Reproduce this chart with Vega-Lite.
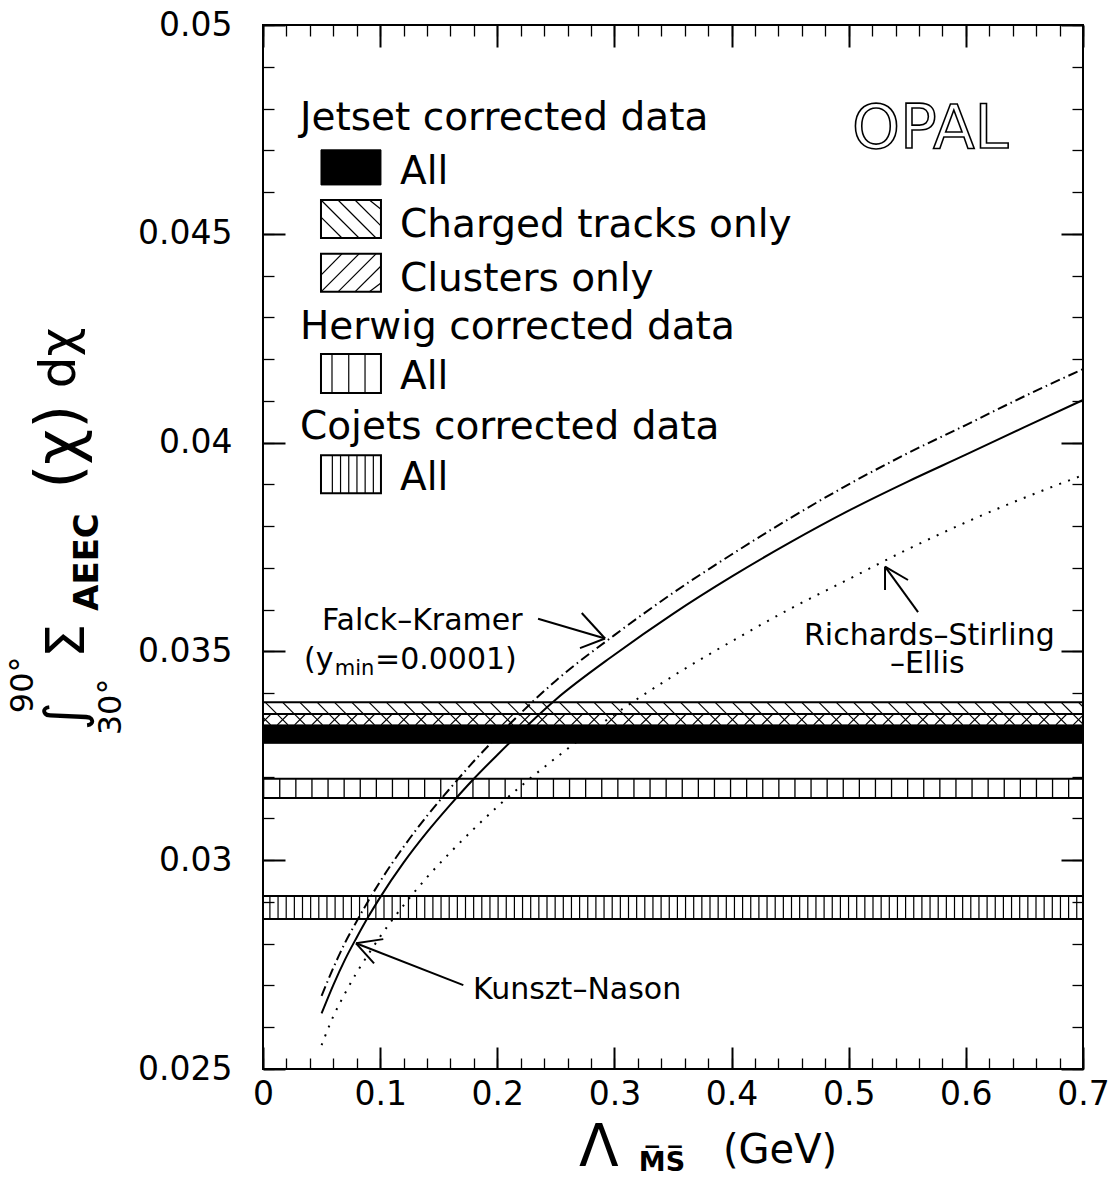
{
  "$schema": "https://vega.github.io/schema/vega-lite/v6.json",
  "width": 820,
  "height": 1044,
  "autosize": {"type": "none"},
  "padding": {"left": 263, "top": 25, "right": 29, "bottom": 121},
  "background": "white",
  "config": {
    "view": {"stroke": "black", "strokeWidth": 2},
    "axis": {"grid": false, "domain": false},
    "text": {"font": "DejaVu Sans", "color": "black"}
  },
  "resolve": {"axis": {"x": "independent", "y": "independent"}},
  "datasets": {
    "bands": [
      {"band": "charged", "lo": 0.0330, "hi": 0.03378},
      {"band": "clusters", "lo": 0.0330, "hi": 0.0335},
      {"band": "herwig", "lo": 0.03149, "hi": 0.03195},
      {"band": "cojets", "lo": 0.02859, "hi": 0.02914},
      {"band": "jetsetAll", "lo": 0.03280, "hi": 0.03324}
    ],
    "hatch": [
      {"h": -0.0128}, {"h": 0.0020}, {"h": 0.0168}, {"h": 0.0315}, {"h": 0.0463}, {"h": 0.0611}, {"h": 0.0759}, {"h": 0.0906},
      {"h": 0.1054}, {"h": 0.1202}, {"h": 0.1349}, {"h": 0.1497}, {"h": 0.1645}, {"h": 0.1792}, {"h": 0.1940}, {"h": 0.2088},
      {"h": 0.2236}, {"h": 0.2383}, {"h": 0.2531}, {"h": 0.2679}, {"h": 0.2826}, {"h": 0.2974}, {"h": 0.3122}, {"h": 0.3269},
      {"h": 0.3417}, {"h": 0.3565}, {"h": 0.3713}, {"h": 0.3860}, {"h": 0.4008}, {"h": 0.4156}, {"h": 0.4303}, {"h": 0.4451},
      {"h": 0.4599}, {"h": 0.4746}, {"h": 0.4894}, {"h": 0.5042}, {"h": 0.5190}, {"h": 0.5337}, {"h": 0.5485}, {"h": 0.5633},
      {"h": 0.5780}, {"h": 0.5928}, {"h": 0.6076}, {"h": 0.6223}, {"h": 0.6371}, {"h": 0.6519}, {"h": 0.6667}, {"h": 0.6814},
      {"h": 0.6962}
    ],
    "curves": [
      {"model": "Kunszt-Nason", "x": 0.05, "y": 0.02633},
      {"model": "Kunszt-Nason", "x": 0.06, "y": 0.02701},
      {"model": "Kunszt-Nason", "x": 0.07, "y": 0.02762},
      {"model": "Kunszt-Nason", "x": 0.08, "y": 0.02815},
      {"model": "Kunszt-Nason", "x": 0.09, "y": 0.02865},
      {"model": "Kunszt-Nason", "x": 0.10, "y": 0.02911},
      {"model": "Kunszt-Nason", "x": 0.12, "y": 0.02994},
      {"model": "Kunszt-Nason", "x": 0.14, "y": 0.03067},
      {"model": "Kunszt-Nason", "x": 0.16, "y": 0.03133},
      {"model": "Kunszt-Nason", "x": 0.18, "y": 0.03195},
      {"model": "Kunszt-Nason", "x": 0.20, "y": 0.03252},
      {"model": "Kunszt-Nason", "x": 0.25, "y": 0.03385},
      {"model": "Kunszt-Nason", "x": 0.30, "y": 0.03492},
      {"model": "Kunszt-Nason", "x": 0.35, "y": 0.03590},
      {"model": "Kunszt-Nason", "x": 0.40, "y": 0.03679},
      {"model": "Kunszt-Nason", "x": 0.45, "y": 0.03761},
      {"model": "Kunszt-Nason", "x": 0.50, "y": 0.03837},
      {"model": "Kunszt-Nason", "x": 0.55, "y": 0.03906},
      {"model": "Kunszt-Nason", "x": 0.60, "y": 0.03971},
      {"model": "Kunszt-Nason", "x": 0.65, "y": 0.04037},
      {"model": "Kunszt-Nason", "x": 0.70, "y": 0.04102},
      {"model": "Falck-Kramer", "x": 0.05, "y": 0.02675},
      {"model": "Falck-Kramer", "x": 0.06, "y": 0.02742},
      {"model": "Falck-Kramer", "x": 0.07, "y": 0.02802},
      {"model": "Falck-Kramer", "x": 0.08, "y": 0.02854},
      {"model": "Falck-Kramer", "x": 0.09, "y": 0.02903},
      {"model": "Falck-Kramer", "x": 0.10, "y": 0.02949},
      {"model": "Falck-Kramer", "x": 0.12, "y": 0.03032},
      {"model": "Falck-Kramer", "x": 0.14, "y": 0.03106},
      {"model": "Falck-Kramer", "x": 0.16, "y": 0.03173},
      {"model": "Falck-Kramer", "x": 0.18, "y": 0.03237},
      {"model": "Falck-Kramer", "x": 0.20, "y": 0.03296},
      {"model": "Falck-Kramer", "x": 0.25, "y": 0.03430},
      {"model": "Falck-Kramer", "x": 0.30, "y": 0.03539},
      {"model": "Falck-Kramer", "x": 0.35, "y": 0.03640},
      {"model": "Falck-Kramer", "x": 0.40, "y": 0.03732},
      {"model": "Falck-Kramer", "x": 0.45, "y": 0.03819},
      {"model": "Falck-Kramer", "x": 0.50, "y": 0.03900},
      {"model": "Falck-Kramer", "x": 0.55, "y": 0.03974},
      {"model": "Falck-Kramer", "x": 0.60, "y": 0.04042},
      {"model": "Falck-Kramer", "x": 0.65, "y": 0.04111},
      {"model": "Falck-Kramer", "x": 0.70, "y": 0.04176},
      {"model": "Richards-Stirling-Ellis", "x": 0.05, "y": 0.02557},
      {"model": "Richards-Stirling-Ellis", "x": 0.06, "y": 0.02626},
      {"model": "Richards-Stirling-Ellis", "x": 0.07, "y": 0.02681},
      {"model": "Richards-Stirling-Ellis", "x": 0.08, "y": 0.02731},
      {"model": "Richards-Stirling-Ellis", "x": 0.09, "y": 0.02775},
      {"model": "Richards-Stirling-Ellis", "x": 0.10, "y": 0.02817},
      {"model": "Richards-Stirling-Ellis", "x": 0.12, "y": 0.02892},
      {"model": "Richards-Stirling-Ellis", "x": 0.14, "y": 0.02959},
      {"model": "Richards-Stirling-Ellis", "x": 0.16, "y": 0.03019},
      {"model": "Richards-Stirling-Ellis", "x": 0.18, "y": 0.03075},
      {"model": "Richards-Stirling-Ellis", "x": 0.20, "y": 0.03128},
      {"model": "Richards-Stirling-Ellis", "x": 0.25, "y": 0.03245},
      {"model": "Richards-Stirling-Ellis", "x": 0.30, "y": 0.03349},
      {"model": "Richards-Stirling-Ellis", "x": 0.35, "y": 0.03441},
      {"model": "Richards-Stirling-Ellis", "x": 0.40, "y": 0.03524},
      {"model": "Richards-Stirling-Ellis", "x": 0.45, "y": 0.03602},
      {"model": "Richards-Stirling-Ellis", "x": 0.50, "y": 0.03673},
      {"model": "Richards-Stirling-Ellis", "x": 0.55, "y": 0.03744},
      {"model": "Richards-Stirling-Ellis", "x": 0.60, "y": 0.03809},
      {"model": "Richards-Stirling-Ellis", "x": 0.65, "y": 0.03868},
      {"model": "Richards-Stirling-Ellis", "x": 0.70, "y": 0.03922}
    ],
    "arrows": [
      {"x": 0.2348, "y": 0.03578, "x2": 0.2920, "y2": 0.03531},
      {"x": 0.2920, "y": 0.03531, "x2": 0.2721, "y2": 0.03592},
      {"x": 0.2920, "y": 0.03531, "x2": 0.2706, "y2": 0.03508},
      {"x": 0.1710, "y": 0.02701, "x2": 0.0794, "y2": 0.02801},
      {"x": 0.0794, "y": 0.02801, "x2": 0.1027, "y2": 0.02811},
      {"x": 0.0794, "y": 0.02801, "x2": 0.0948, "y2": 0.02753},
      {"x": 0.5592, "y": 0.03594, "x2": 0.5310, "y2": 0.03703},
      {"x": 0.5310, "y": 0.03703, "x2": 0.5310, "y2": 0.03647},
      {"x": 0.5310, "y": 0.03703, "x2": 0.5506, "y2": 0.03671}
    ],
    "swatches": [
      {"kind": "jetsetAll", "x": 0.0495, "x2": 0.1007, "y": 0.04617, "y2": 0.04701},
      {"kind": "charged", "x": 0.0495, "x2": 0.1007, "y": 0.04490, "y2": 0.04581},
      {"kind": "clusters", "x": 0.0495, "x2": 0.1007, "y": 0.04361, "y2": 0.04452},
      {"kind": "herwig", "x": 0.0495, "x2": 0.1007, "y": 0.04119, "y2": 0.04212},
      {"kind": "cojets", "x": 0.0495, "x2": 0.1007, "y": 0.03879, "y2": 0.03970}
    ],
    "swatchHatch": [
      {"x": 0.0495, "y": 0.04540, "x2": 0.0674, "y2": 0.04490},
      {"x": 0.0495, "y": 0.04581, "x2": 0.0820, "y2": 0.04490},
      {"x": 0.0640, "y": 0.04581, "x2": 0.0965, "y2": 0.04490},
      {"x": 0.0785, "y": 0.04581, "x2": 0.1007, "y2": 0.04519},
      {"x": 0.0908, "y": 0.04581, "x2": 0.1007, "y2": 0.04559},
      {"x": 0.0495, "y": 0.04401, "x2": 0.0674, "y2": 0.04452},
      {"x": 0.0495, "y": 0.04361, "x2": 0.0820, "y2": 0.04452},
      {"x": 0.0640, "y": 0.04361, "x2": 0.0965, "y2": 0.04452},
      {"x": 0.0785, "y": 0.04361, "x2": 0.1007, "y2": 0.04423},
      {"x": 0.0908, "y": 0.04361, "x2": 0.1007, "y2": 0.04382},
      {"x": 0.0589, "y": 0.04119, "x2": 0.0589, "y2": 0.04212},
      {"x": 0.0732, "y": 0.04119, "x2": 0.0732, "y2": 0.04212},
      {"x": 0.0871, "y": 0.04119, "x2": 0.0871, "y2": 0.04212},
      {"x": 0.0592, "y": 0.03879, "x2": 0.0592, "y2": 0.03970},
      {"x": 0.0662, "y": 0.03879, "x2": 0.0662, "y2": 0.03970},
      {"x": 0.0732, "y": 0.03879, "x2": 0.0732, "y2": 0.03970},
      {"x": 0.0802, "y": 0.03879, "x2": 0.0802, "y2": 0.03970},
      {"x": 0.0872, "y": 0.03879, "x2": 0.0872, "y2": 0.03970},
      {"x": 0.0942, "y": 0.03879, "x2": 0.0942, "y2": 0.03970}
    ],
    "legendText": [
      {"t": "Jetset corrected data", "x": 0.0316, "y": 0.04777},
      {"t": "All", "x": 0.1170, "y": 0.04648},
      {"t": "Charged tracks only", "x": 0.1170, "y": 0.04521},
      {"t": "Clusters only", "x": 0.1170, "y": 0.04392},
      {"t": "Herwig corrected data", "x": 0.0316, "y": 0.04277},
      {"t": "All", "x": 0.1170, "y": 0.04157},
      {"t": "Cojets corrected data", "x": 0.0316, "y": 0.04037},
      {"t": "All", "x": 0.1170, "y": 0.03915}
    ],
    "notes": [
      {"t": "Falck–Kramer", "x": 0.0504, "y": 0.03573},
      {"t": "(y", "x": 0.0350, "y": 0.03479},
      {"t": "=0.0001)", "x": 0.0956, "y": 0.03479},
      {"t": "Kunszt–Nason", "x": 0.1793, "y": 0.02689},
      {"t": "Richards–Stirling", "x": 0.4618, "y": 0.03538},
      {"t": "–Ellis", "x": 0.5353, "y": 0.03471}
    ],
    "subs": [
      {"t": "min", "x": 0.0613, "y": 0.03458}
    ],
    "opal": [
      {"t": "OPAL", "x": 0.5028, "y": 0.04749}
    ],
    "xLambda": [
      {"t": "Λ", "x": 0.2868, "y": 0.02308}
    ],
    "xUnit": [
      {"t": "(GeV)", "x": 0.4414, "y": 0.02304}
    ],
    "xtitleSub": [
      {"t": "M̅S̅", "x": 0.3406, "y": 0.02275}
    ],
    "yIntSigma": [
      {"t": "∫", "x": -0.1673, "y": 0.03345},
      {"t": "Σ", "x": -0.1665, "y": 0.03525}
    ],
    "yChi": [
      {"t": "(χ)", "x": -0.1733, "y": 0.03990}
    ],
    "yDChi": [
      {"t": "dχ", "x": -0.1733, "y": 0.04203}
    ],
    "ytitleLimits": [
      {"t": "90°", "x": -0.2049, "y": 0.03420},
      {"t": "30°", "x": -0.1298, "y": 0.03367}
    ],
    "ytitleSub": [
      {"t": "AEEC", "x": -0.1494, "y": 0.03714}
    ]
  },
  "layer": [
    {
      "data": {"name": "bands"},
      "transform": [{"filter": "datum.band != 'jetsetAll'"}],
      "mark": {"type": "rect", "fill": "white", "stroke": "black", "strokeWidth": 2},
      "encoding": {
        "x": {"datum": 0, "type": "quantitative", "scale": {"domain": [0, 0.7], "nice": false, "zero": false}, "axis": null},
        "x2": {"datum": 0.7},
        "y": {"field": "lo", "type": "quantitative", "scale": {"domain": [0.025, 0.05], "nice": false, "zero": false}, "axis": null},
        "y2": {"field": "hi"}
      }
    },
    {
      "data": {"name": "hatch"},
      "mark": {"type": "rule", "clip": true, "color": "black", "strokeWidth": 1.2, "x2Offset": 22.6},
      "encoding": {
        "x": {"field": "h", "type": "quantitative", "scale": {"domain": [0, 0.7], "nice": false, "zero": false}, "axis": null},
        "x2": {"field": "h"},
        "y": {"datum": 0.03378, "type": "quantitative", "scale": {"domain": [0.025, 0.05], "nice": false, "zero": false}, "axis": null},
        "y2": {"datum": 0.03324}
      }
    },
    {
      "data": {"name": "hatch"},
      "mark": {"type": "rule", "clip": true, "color": "black", "strokeWidth": 1.2, "xOffset": -5.3, "x2Offset": 5.7},
      "encoding": {
        "x": {"field": "h", "type": "quantitative", "scale": {"domain": [0, 0.7], "nice": false, "zero": false}, "axis": null},
        "x2": {"field": "h"},
        "y": {"datum": 0.03324, "type": "quantitative", "scale": {"domain": [0.025, 0.05], "nice": false, "zero": false}, "axis": null},
        "y2": {"datum": 0.0335}
      }
    },
    {
      "data": {"name": "bands"},
      "transform": [{"filter": "datum.band == 'herwig'"}],
      "mark": {"type": "rule", "color": "black", "strokeWidth": 19, "strokeCap": "butt", "strokeDash": [1.3, 14.8]},
      "encoding": {
        "x": {"datum": 0, "type": "quantitative", "scale": {"domain": [0, 0.7], "nice": false, "zero": false}, "axis": null},
        "x2": {"datum": 0.7},
        "y": {"datum": 0.03172, "type": "quantitative", "scale": {"domain": [0.025, 0.05], "nice": false, "zero": false}, "axis": null}
      }
    },
    {
      "data": {"name": "bands"},
      "transform": [{"filter": "datum.band == 'cojets'"}],
      "mark": {"type": "rule", "color": "black", "strokeWidth": 23, "strokeCap": "butt", "strokeDash": [1.2, 6.95], "strokeDashOffset": 1.85},
      "encoding": {
        "x": {"datum": 0, "type": "quantitative", "scale": {"domain": [0, 0.7], "nice": false, "zero": false}, "axis": null},
        "x2": {"datum": 0.7},
        "y": {"datum": 0.028865, "type": "quantitative", "scale": {"domain": [0.025, 0.05], "nice": false, "zero": false}, "axis": null}
      }
    },
    {
      "data": {"name": "bands"},
      "transform": [{"filter": "datum.band == 'jetsetAll'"}],
      "mark": {"type": "rect", "fill": "black", "stroke": "black", "strokeWidth": 1},
      "encoding": {
        "x": {"datum": 0, "type": "quantitative", "scale": {"domain": [0, 0.7], "nice": false, "zero": false}, "axis": null},
        "x2": {"datum": 0.7},
        "y": {"field": "lo", "type": "quantitative", "scale": {"domain": [0.025, 0.05], "nice": false, "zero": false}, "axis": null},
        "y2": {"field": "hi"}
      }
    },
    {
      "data": {"name": "curves"},
      "transform": [{"filter": "datum.model == 'Kunszt-Nason'"}],
      "mark": {"type": "line", "color": "black", "strokeWidth": 2, "interpolate": "monotone"},
      "encoding": {
        "x": {"field": "x", "type": "quantitative", "scale": {"domain": [0, 0.7], "nice": false, "zero": false},
          "axis": {"orient": "bottom", "values": [0, 0.1, 0.2, 0.3, 0.4, 0.5, 0.6, 0.7], "ticks": false, "domain": false, "grid": false, "labels": true, "labelFont": "DejaVu Sans", "labelFontSize": 33, "labelColor": "black", "labelPadding": 9, "labelFlush": false, "labelOverlap": false, "labelExpr": "format(datum.value, '~g')", "title": null}},
        "y": {"field": "y", "type": "quantitative", "scale": {"domain": [0.025, 0.05], "nice": false, "zero": false},
          "axis": {"orient": "left", "values": [0.025, 0.03, 0.035, 0.04, 0.045, 0.05], "ticks": false, "domain": false, "grid": false, "labels": true, "labelFont": "DejaVu Sans", "labelFontSize": 33, "labelColor": "black", "labelPadding": 31, "labelFlush": false, "labelOverlap": false, "labelExpr": "format(datum.value, '~g')", "title": null}}
      }
    },
    {
      "data": {"name": "curves"},
      "transform": [{"filter": "datum.model == 'Falck-Kramer'"}],
      "mark": {"type": "line", "color": "black", "strokeWidth": 2, "interpolate": "monotone", "strokeDash": [10, 4, 1.5, 4]},
      "encoding": {
        "x": {"field": "x", "type": "quantitative", "scale": {"domain": [0, 0.7], "nice": false, "zero": false},
          "axis": {"orient": "bottom", "values": [0, 0.1, 0.2, 0.3, 0.4, 0.5, 0.6, 0.7], "ticks": true, "tickSize": -22, "tickWidth": 2, "tickColor": "black", "labels": false, "domain": false, "grid": false, "title": null, "zindex": 1}},
        "y": {"field": "y", "type": "quantitative", "scale": {"domain": [0.025, 0.05], "nice": false, "zero": false},
          "axis": {"orient": "left", "values": [0.025, 0.03, 0.035, 0.04, 0.045, 0.05], "ticks": true, "tickSize": -22, "tickWidth": 2, "tickColor": "black", "labels": false, "domain": false, "grid": false, "title": null, "zindex": 1}}
      }
    },
    {
      "data": {"name": "curves"},
      "transform": [{"filter": "datum.model == 'Richards-Stirling-Ellis'"}],
      "mark": {"type": "line", "color": "black", "strokeWidth": 2, "interpolate": "monotone", "strokeDash": [2, 7.5]},
      "encoding": {
        "x": {"field": "x", "type": "quantitative", "scale": {"domain": [0, 0.7], "nice": false, "zero": false},
          "axis": {"orient": "bottom", "values": [0, 0.02, 0.04, 0.06, 0.08, 0.1, 0.12, 0.14, 0.16, 0.18, 0.2, 0.22, 0.24, 0.26, 0.28, 0.3, 0.32, 0.34, 0.36, 0.38, 0.4, 0.42, 0.44, 0.46, 0.48, 0.5, 0.52, 0.54, 0.56, 0.58, 0.6, 0.62, 0.64, 0.66, 0.68, 0.7], "ticks": true, "tickSize": -11, "tickWidth": 1.3, "tickColor": "black", "labels": false, "domain": false, "grid": false, "title": null, "zindex": 1}},
        "y": {"field": "y", "type": "quantitative", "scale": {"domain": [0.025, 0.05], "nice": false, "zero": false},
          "axis": {"orient": "left", "values": [0.025, 0.026, 0.027, 0.028, 0.029, 0.03, 0.031, 0.032, 0.033, 0.034, 0.035, 0.036, 0.037, 0.038, 0.039, 0.04, 0.041, 0.042, 0.043, 0.044, 0.045, 0.046, 0.047, 0.048, 0.049, 0.05], "ticks": true, "tickSize": -11, "tickWidth": 1.3, "tickColor": "black", "labels": false, "domain": false, "grid": false, "title": null, "zindex": 1}}
      }
    },
    {
      "data": {"name": "arrows"},
      "mark": {"type": "rule", "color": "black", "strokeWidth": 2},
      "encoding": {
        "x": {"field": "x", "type": "quantitative", "scale": {"domain": [0, 0.7], "nice": false, "zero": false},
          "axis": {"orient": "top", "values": [0, 0.1, 0.2, 0.3, 0.4, 0.5, 0.6, 0.7], "ticks": true, "tickSize": -22, "tickWidth": 2, "tickColor": "black", "labels": false, "domain": false, "grid": false, "title": null, "zindex": 1}},
        "x2": {"field": "x2"},
        "y": {"field": "y", "type": "quantitative", "scale": {"domain": [0.025, 0.05], "nice": false, "zero": false},
          "axis": {"orient": "right", "values": [0.025, 0.03, 0.035, 0.04, 0.045, 0.05], "ticks": true, "tickSize": -22, "tickWidth": 2, "tickColor": "black", "labels": false, "domain": false, "grid": false, "title": null, "zindex": 1}},
        "y2": {"field": "y2"}
      }
    },
    {
      "data": {"name": "swatches"},
      "transform": [{"filter": "datum.kind != 'jetsetAll'"}],
      "mark": {"type": "rect", "fill": "white", "stroke": "black", "strokeWidth": 2},
      "encoding": {
        "x": {"field": "x", "type": "quantitative", "scale": {"domain": [0, 0.7], "nice": false, "zero": false}, "axis": null},
        "x2": {"field": "x2"},
        "y": {"field": "y", "type": "quantitative", "scale": {"domain": [0.025, 0.05], "nice": false, "zero": false}, "axis": null},
        "y2": {"field": "y2"}
      }
    },
    {
      "data": {"name": "swatches"},
      "transform": [{"filter": "datum.kind == 'jetsetAll'"}],
      "mark": {"type": "rect", "fill": "black", "stroke": "black", "strokeWidth": 1},
      "encoding": {
        "x": {"field": "x", "type": "quantitative", "scale": {"domain": [0, 0.7], "nice": false, "zero": false}, "axis": null},
        "x2": {"field": "x2"},
        "y": {"field": "y", "type": "quantitative", "scale": {"domain": [0.025, 0.05], "nice": false, "zero": false}, "axis": null},
        "y2": {"field": "y2"}
      }
    },
    {
      "data": {"name": "swatchHatch"},
      "mark": {"type": "rule", "color": "black", "strokeWidth": 1.2},
      "encoding": {
        "x": {"field": "x", "type": "quantitative", "scale": {"domain": [0, 0.7], "nice": false, "zero": false},
          "axis": {"orient": "top", "values": [0, 0.02, 0.04, 0.06, 0.08, 0.1, 0.12, 0.14, 0.16, 0.18, 0.2, 0.22, 0.24, 0.26, 0.28, 0.3, 0.32, 0.34, 0.36, 0.38, 0.4, 0.42, 0.44, 0.46, 0.48, 0.5, 0.52, 0.54, 0.56, 0.58, 0.6, 0.62, 0.64, 0.66, 0.68, 0.7], "ticks": true, "tickSize": -11, "tickWidth": 1.3, "tickColor": "black", "labels": false, "domain": false, "grid": false, "title": null, "zindex": 1}},
        "x2": {"field": "x2"},
        "y": {"field": "y", "type": "quantitative", "scale": {"domain": [0.025, 0.05], "nice": false, "zero": false},
          "axis": {"orient": "right", "values": [0.025, 0.026, 0.027, 0.028, 0.029, 0.03, 0.031, 0.032, 0.033, 0.034, 0.035, 0.036, 0.037, 0.038, 0.039, 0.04, 0.041, 0.042, 0.043, 0.044, 0.045, 0.046, 0.047, 0.048, 0.049, 0.05], "ticks": true, "tickSize": -11, "tickWidth": 1.3, "tickColor": "black", "labels": false, "domain": false, "grid": false, "title": null, "zindex": 1}},
        "y2": {"field": "y2"}
      }
    },
    {
      "data": {"name": "legendText"},
      "mark": {"type": "text", "align": "left", "baseline": "middle", "fontSize": 39, "font": "DejaVu Sans"},
      "encoding": {
        "x": {"field": "x", "type": "quantitative", "scale": {"domain": [0, 0.7], "nice": false, "zero": false}, "axis": null},
        "y": {"field": "y", "type": "quantitative", "scale": {"domain": [0.025, 0.05], "nice": false, "zero": false}, "axis": null},
        "text": {"field": "t"}
      }
    },
    {
      "data": {"name": "notes"},
      "mark": {"type": "text", "align": "left", "baseline": "middle", "fontSize": 30, "font": "DejaVu Sans"},
      "encoding": {
        "x": {"field": "x", "type": "quantitative", "scale": {"domain": [0, 0.7], "nice": false, "zero": false}, "axis": null},
        "y": {"field": "y", "type": "quantitative", "scale": {"domain": [0.025, 0.05], "nice": false, "zero": false}, "axis": null},
        "text": {"field": "t"}
      }
    },
    {
      "data": {"name": "subs"},
      "mark": {"type": "text", "align": "left", "baseline": "middle", "fontSize": 21, "font": "DejaVu Sans"},
      "encoding": {
        "x": {"field": "x", "type": "quantitative", "scale": {"domain": [0, 0.7], "nice": false, "zero": false}, "axis": null},
        "y": {"field": "y", "type": "quantitative", "scale": {"domain": [0.025, 0.05], "nice": false, "zero": false}, "axis": null},
        "text": {"field": "t"}
      }
    },
    {
      "data": {"name": "opal"},
      "mark": {"type": "text", "align": "left", "baseline": "middle", "fontSize": 61, "font": "DejaVu Sans", "fill": "white", "stroke": "black", "strokeWidth": 1.6},
      "encoding": {
        "x": {"field": "x", "type": "quantitative", "scale": {"domain": [0, 0.7], "nice": false, "zero": false}, "axis": null},
        "y": {"field": "y", "type": "quantitative", "scale": {"domain": [0.025, 0.05], "nice": false, "zero": false}, "axis": null},
        "text": {"field": "t"}
      }
    },
    {
      "data": {"name": "xLambda"},
      "mark": {"type": "text", "align": "center", "baseline": "middle", "fontSize": 58, "font": "DejaVu Sans"},
      "encoding": {
        "x": {"field": "x", "type": "quantitative", "scale": {"domain": [0, 0.7], "nice": false, "zero": false}, "axis": null},
        "y": {"field": "y", "type": "quantitative", "scale": {"domain": [0.025, 0.05], "nice": false, "zero": false}, "axis": null},
        "text": {"field": "t"}
      }
    },
    {
      "data": {"name": "xUnit"},
      "mark": {"type": "text", "align": "center", "baseline": "middle", "fontSize": 40, "font": "DejaVu Sans"},
      "encoding": {
        "x": {"field": "x", "type": "quantitative", "scale": {"domain": [0, 0.7], "nice": false, "zero": false}, "axis": null},
        "y": {"field": "y", "type": "quantitative", "scale": {"domain": [0.025, 0.05], "nice": false, "zero": false}, "axis": null},
        "text": {"field": "t"}
      }
    },
    {
      "data": {"name": "xtitleSub"},
      "mark": {"type": "text", "align": "center", "baseline": "middle", "fontSize": 27, "fontWeight": "bold", "font": "DejaVu Sans"},
      "encoding": {
        "x": {"field": "x", "type": "quantitative", "scale": {"domain": [0, 0.7], "nice": false, "zero": false}, "axis": null},
        "y": {"field": "y", "type": "quantitative", "scale": {"domain": [0.025, 0.05], "nice": false, "zero": false}, "axis": null},
        "text": {"field": "t"}
      }
    },
    {
      "data": {"name": "yIntSigma"},
      "mark": {"type": "text", "align": "center", "baseline": "middle", "fontSize": 54, "angle": 270, "font": "DejaVu Sans"},
      "encoding": {
        "x": {"field": "x", "type": "quantitative", "scale": {"domain": [0, 0.7], "nice": false, "zero": false}, "axis": null},
        "y": {"field": "y", "type": "quantitative", "scale": {"domain": [0.025, 0.05], "nice": false, "zero": false}, "axis": null},
        "text": {"field": "t"}
      }
    },
    {
      "data": {"name": "yChi"},
      "mark": {"type": "text", "align": "center", "baseline": "middle", "fontSize": 62, "angle": 270, "font": "DejaVu Sans"},
      "encoding": {
        "x": {"field": "x", "type": "quantitative", "scale": {"domain": [0, 0.7], "nice": false, "zero": false}, "axis": null},
        "y": {"field": "y", "type": "quantitative", "scale": {"domain": [0.025, 0.05], "nice": false, "zero": false}, "axis": null},
        "text": {"field": "t"}
      }
    },
    {
      "data": {"name": "yDChi"},
      "mark": {"type": "text", "align": "center", "baseline": "middle", "fontSize": 50, "angle": 270, "font": "DejaVu Sans"},
      "encoding": {
        "x": {"field": "x", "type": "quantitative", "scale": {"domain": [0, 0.7], "nice": false, "zero": false}, "axis": null},
        "y": {"field": "y", "type": "quantitative", "scale": {"domain": [0.025, 0.05], "nice": false, "zero": false}, "axis": null},
        "text": {"field": "t"}
      }
    },
    {
      "data": {"name": "ytitleLimits"},
      "mark": {"type": "text", "align": "center", "baseline": "middle", "fontSize": 32, "angle": 270, "font": "DejaVu Sans"},
      "encoding": {
        "x": {"field": "x", "type": "quantitative", "scale": {"domain": [0, 0.7], "nice": false, "zero": false}, "axis": null},
        "y": {"field": "y", "type": "quantitative", "scale": {"domain": [0.025, 0.05], "nice": false, "zero": false}, "axis": null},
        "text": {"field": "t"}
      }
    },
    {
      "data": {"name": "ytitleSub"},
      "mark": {"type": "text", "align": "center", "baseline": "middle", "fontSize": 34, "fontWeight": "bold", "angle": 270, "font": "DejaVu Sans"},
      "encoding": {
        "x": {"field": "x", "type": "quantitative", "scale": {"domain": [0, 0.7], "nice": false, "zero": false}, "axis": null},
        "y": {"field": "y", "type": "quantitative", "scale": {"domain": [0.025, 0.05], "nice": false, "zero": false}, "axis": null},
        "text": {"field": "t"}
      }
    }
  ]
}
